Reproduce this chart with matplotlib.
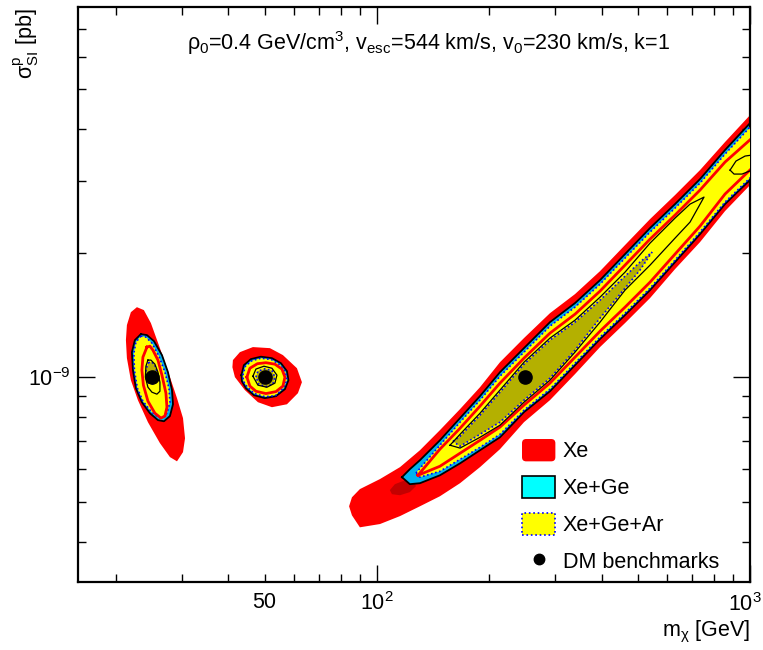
# Allowed regions in the (m_chi, sigma_SI) plane for three DM benchmarks,
# for Xe alone and combined with Ge and Ar targets.

import numpy as np
import matplotlib
matplotlib.use('Agg')
import matplotlib.pyplot as plt
import matplotlib.transforms as mtransforms
from matplotlib.ticker import FixedLocator, FixedFormatter, NullFormatter
from matplotlib.patches import Patch, FancyBboxPatch
from matplotlib.lines import Line2D
from matplotlib.legend_handler import HandlerPatch

plt.rcParams['font.family'] = 'Liberation Sans'
plt.rcParams['mathtext.fontset'] = 'custom'
plt.rcParams['mathtext.rm'] = 'Liberation Sans'
plt.rcParams['mathtext.it'] = 'Liberation Sans:italic'
plt.rcParams['mathtext.bf'] = 'Liberation Sans:bold'

## DATA ##########################
SIG = 1e-9   # all cross sections below in units of 1e-9 pb

bench_m = [25., 50., 250.]
bench_s = [1.0, 1.0, 1.0]

# --- 25 GeV benchmark, closed contours (m [GeV], sigma)
xe95_a_m = [22.73, 21.90, 21.37, 21.24, 21.37, 21.90, 22.87, 24.33, 26.20, 27.87, 29.11, 30.21, 30.59, 30.21, 29.11, 27.87, 26.20, 24.78, 23.73]
xe95_a_s = [1.481, 1.440, 1.340, 1.232, 1.114, 0.985, 0.881, 0.779, 0.693, 0.641, 0.626, 0.659, 0.712, 0.797, 0.891, 1.002, 1.178, 1.355, 1.457]
xege95_a_m = [23.30, 22.45, 22.04, 22.18, 22.59, 23.44, 24.63, 25.88, 26.86, 27.87, 28.40, 28.22, 27.53, 26.53, 25.25, 24.18]
xege95_a_s = [1.274, 1.232, 1.152, 1.042, 0.942, 0.871, 0.819, 0.788, 0.783, 0.806, 0.861, 0.932, 1.030, 1.133, 1.225, 1.267]
xegear95_a_m = [23.30, 22.59, 22.31, 22.38, 22.80, 23.59, 24.78, 25.88, 26.53, 27.36, 27.87, 27.70, 27.02, 26.04, 24.94, 24.03]
xegear95_a_s = [1.260, 1.218, 1.146, 1.042, 0.942, 0.876, 0.828, 0.801, 0.797, 0.819, 0.871, 0.942, 1.030, 1.126, 1.211, 1.253]
xe68_a_m = [24.18, 23.59, 23.44, 23.66, 24.33, 25.40, 26.36, 27.02, 27.36, 27.19, 26.53, 25.88, 25.09, 24.63]
xe68_a_s = [1.185, 1.120, 1.042, 0.958, 0.876, 0.819, 0.797, 0.806, 0.847, 0.916, 1.013, 1.102, 1.165, 1.191]
xege68_a_m = [24.33, 24.03, 23.95, 24.33, 24.94, 25.72, 26.20, 26.20, 25.88, 25.40, 24.78]
xege68_a_s = [1.102, 1.065, 1.002, 0.947, 0.921, 0.911, 0.926, 0.974, 1.030, 1.077, 1.102]
xegear68_a_m = [24.48, 24.03, 24.10, 24.48, 25.25, 25.72, 25.72, 25.40, 24.94]
xegear68_a_s = [1.089, 1.048, 0.996, 0.969, 0.963, 0.985, 1.030, 1.071, 1.089]

# --- 50 GeV benchmark
xe95_b_m = [41.11, 42.92, 46.51, 51.66, 55.98, 61.03, 62.94, 61.40, 57.38, 52.30, 47.97, 44.26, 41.62, 40.98]
xe95_b_s = [1.102, 1.152, 1.185, 1.178, 1.133, 1.053, 0.974, 0.916, 0.861, 0.847, 0.871, 0.932, 1.002, 1.059]
xege95_b_m = [43.32, 43.99, 45.94, 48.86, 52.30, 55.29, 57.38, 57.91, 56.67, 53.61, 50.09, 46.79, 44.54, 43.45]
xege95_b_s = [1.013, 1.071, 1.108, 1.123, 1.114, 1.083, 1.036, 0.985, 0.937, 0.901, 0.891, 0.906, 0.942, 0.980]
xegear95_b_m = [43.72, 44.40, 46.22, 48.86, 52.14, 54.95, 56.85, 57.38, 56.15, 53.44, 50.09, 46.94, 44.95, 43.85]
xegear95_b_s = [1.013, 1.065, 1.098, 1.114, 1.105, 1.074, 1.030, 0.985, 0.942, 0.903, 0.898, 0.914, 0.947, 0.980]
xe68_b_m = [44.81, 45.65, 47.82, 50.40, 53.28, 55.63, 56.67, 55.98, 53.61, 50.40, 47.38, 45.65]
xe68_b_s = [1.002, 1.053, 1.080, 1.086, 1.077, 1.048, 1.002, 0.953, 0.924, 0.914, 0.926, 0.953]
xege68_b_m = [46.51, 47.38, 49.78, 52.30, 53.94, 53.28, 50.71, 47.97]
xege68_b_s = [1.007, 1.048, 1.065, 1.053, 1.013, 0.969, 0.947, 0.958]
xegear68_b_m = [47.38, 47.97, 50.09, 52.30, 53.28, 52.62, 50.40, 48.26]
xegear68_b_s = [1.002, 1.036, 1.050, 1.039, 1.002, 0.963, 0.950, 0.963]

# --- 250 GeV benchmark: degenerate band, upper / lower edge at each mass
xe95_c_m = [84.2, 85.7, 90.0, 101.9, 115.3, 130.4, 147.5, 167.0, 188.9, 213.7, 247.8, 290.9, 339.5, 396.2, 462.3, 539.5, 629.5, 734.5, 857.0, 1012]
xe95_c_hi = [0.487, 0.512, 0.536, 0.567, 0.606, 0.666, 0.745, 0.838, 0.947, 1.089, 1.246, 1.432, 1.593, 1.811, 2.095, 2.422, 2.770, 3.185, 3.725, 4.380]
xe95_c_lo = [0.487, 0.463, 0.433, 0.441, 0.461, 0.487, 0.515, 0.554, 0.606, 0.670, 0.779, 0.881, 1.019, 1.185, 1.355, 1.558, 1.832, 2.130, 2.533, 2.962]
xege95_c_m = [116.7, 122.5, 130.4, 147.5, 167.0, 188.9, 213.7, 247.8, 290.9, 339.5, 396.2, 462.3, 539.5, 629.5, 734.5, 857.0, 1012]
xege95_c_hi = [0.573, 0.599, 0.630, 0.704, 0.797, 0.901, 1.030, 1.178, 1.362, 1.515, 1.722, 1.992, 2.304, 2.634, 3.029, 3.562, 4.189]
xege95_c_lo = [0.573, 0.551, 0.554, 0.579, 0.619, 0.666, 0.716, 0.824, 0.926, 1.071, 1.239, 1.417, 1.629, 1.905, 2.227, 2.634, 3.046]
xegear95_c_m = [127.2, 130.4, 147.5, 167.0, 188.9, 213.7, 247.8, 290.9, 339.5, 396.2, 462.3, 539.5, 629.5, 734.5, 857.0, 1012]
xegear95_c_hi = [0.586, 0.602, 0.685, 0.779, 0.881, 1.007, 1.152, 1.332, 1.481, 1.684, 1.948, 2.253, 2.576, 2.962, 3.483, 4.096]
xegear95_c_lo = [0.586, 0.573, 0.592, 0.633, 0.677, 0.728, 0.833, 0.937, 1.083, 1.253, 1.432, 1.647, 1.926, 2.253, 2.664, 3.080]
xe68_c_m = [128.8, 147.5, 167.0, 188.9, 213.7, 247.8, 290.9, 339.5, 396.2, 462.3, 539.5, 629.5, 734.5, 857.0, 1012]
xe68_c_hi = [0.579, 0.670, 0.753, 0.852, 0.969, 1.114, 1.281, 1.424, 1.620, 1.873, 2.166, 2.477, 2.849, 3.331, 3.809]
xe68_c_lo = [0.579, 0.609, 0.655, 0.704, 0.758, 0.857, 0.969, 1.120, 1.295, 1.481, 1.703, 1.992, 2.329, 2.786, 3.221]
xege68_c_m = [157.0, 167.0, 188.9, 213.7, 247.8, 290.9, 339.5, 396.2, 462.3, 539.5, 629.5, 690.6, 752.8]
xege68_c_hi = [0.685, 0.728, 0.819, 0.932, 1.089, 1.246, 1.377, 1.566, 1.801, 2.118, 2.436, 2.634, 2.739]
xege68_c_lo = [0.685, 0.674, 0.716, 0.766, 0.871, 0.985, 1.152, 1.362, 1.629, 1.873, 2.178, 2.382, 2.739]
xegear68_c_m = [159.9, 167.0, 188.9, 213.7, 247.8, 290.9, 339.5, 396.2, 462.3, 507.1, 546.2]
xegear68_c_hi = [0.700, 0.720, 0.810, 0.921, 1.077, 1.232, 1.362, 1.540, 1.761, 1.905, 2.014]
xegear68_c_lo = [0.700, 0.681, 0.728, 0.779, 0.881, 0.996, 1.165, 1.393, 1.647, 1.822, 2.014]
# small Xe+Ge 68% island near 1 TeV and Xe 68% spot near 115 GeV
xege68_d_m = [884, 917, 970, 1012, 1012, 952, 906]
xege68_d_s = [3.185, 3.350, 3.445, 3.464, 3.185, 3.115, 3.115]
xe68_d_m = [108.3, 111.7, 118.9, 125.7, 127.2, 122.5, 115.3, 109.7]
xe68_d_s = [0.533, 0.551, 0.563, 0.560, 0.545, 0.527, 0.518, 0.521]

legend_labels = ['Xe', 'Xe+Ge', 'Xe+Ge+Ar', 'DM benchmarks']
##################################

C_RED = '#ff0000'
C_DARKRED = '#c40000'
C_CYAN = '#00b4f0'
C_YEL = '#ffff00'
C_OLIVE = '#b4b000'
DOT = (0, (1, 1.5))

def closed(m, s):
    return np.array(m), np.array(s) * SIG

def band(m, hi, lo):
    x = list(m) + list(m[::-1])
    y = list(hi) + list(lo[::-1])
    return np.array(x), np.array(y) * SIG

def outline(ax, xy, **kw):
    x, y = xy
    ax.plot(np.append(x, x[0]), np.append(y, y[0]), **kw)

class RoundBox(HandlerPatch):
    # ROOT-like legend box with rounded corners
    def create_artists(self, legend, orig_handle, xdescent, ydescent,
                       width, height, fontsize, trans):
        p = FancyBboxPatch((-xdescent, -ydescent), width, height,
                           boxstyle='round,pad=0,rounding_size=3',
                           facecolor=orig_handle.get_facecolor(),
                           edgecolor='none', transform=trans)
        return [p]

regions = {
    'xe95': [closed(xe95_a_m, xe95_a_s), closed(xe95_b_m, xe95_b_s), band(xe95_c_m, xe95_c_hi, xe95_c_lo)],
    'xege95': [closed(xege95_a_m, xege95_a_s), closed(xege95_b_m, xege95_b_s), band(xege95_c_m, xege95_c_hi, xege95_c_lo)],
    'xegear95': [closed(xegear95_a_m, xegear95_a_s), closed(xegear95_b_m, xegear95_b_s), band(xegear95_c_m, xegear95_c_hi, xegear95_c_lo)],
    'xe68': [closed(xe68_a_m, xe68_a_s), closed(xe68_b_m, xe68_b_s), band(xe68_c_m, xe68_c_hi, xe68_c_lo)],
    'xege68': [closed(xege68_a_m, xege68_a_s), closed(xege68_b_m, xege68_b_s), band(xege68_c_m, xege68_c_hi, xege68_c_lo), closed(xege68_d_m, xege68_d_s)],
    'xegear68': [closed(xegear68_a_m, xegear68_a_s), closed(xegear68_b_m, xegear68_b_s), band(xegear68_c_m, xegear68_c_hi, xegear68_c_lo)],
}

## PLOT ##########################
fig = plt.figure(figsize=(7.63, 6.5), dpi=100)
ax = fig.add_axes([0.1022, 0.1046, 0.8808, 0.8846])
ax.set_xscale('log')
ax.set_yscale('log')

for x, y in regions['xe95']:
    ax.fill(x, y, facecolor=C_RED, edgecolor='none', zorder=1)
x, y = closed(xe68_d_m, xe68_d_s)
ax.fill(x, y, facecolor=C_DARKRED, edgecolor='none', zorder=1.5)
for x, y in regions['xege95']:
    ax.fill(x, y, facecolor=C_CYAN, edgecolor='none', zorder=2)
for x, y in regions['xegear95']:
    ax.fill(x, y, facecolor=C_YEL, edgecolor='none', zorder=3)
for xy in regions['xege95']:
    outline(ax, xy, color='black', lw=1.3, zorder=4)
for xy in regions['xegear95']:
    outline(ax, xy, color='blue', lw=1.2, ls=DOT, zorder=4)
for xy in regions['xe68']:
    outline(ax, xy, color=C_RED, lw=2.0, zorder=5)
for x, y in regions['xegear68']:
    ax.fill(x, y, facecolor=C_OLIVE, edgecolor='blue', lw=1.2, ls=DOT, zorder=6)
for xy in regions['xege68']:
    outline(ax, xy, color='black', lw=0.9, zorder=7)

ax.plot(bench_m, np.array(bench_s) * SIG, 'o', color='black', ms=9.5, zorder=8)

## axes ##############
ax.set_xlim(15.8, 1000)
ax.set_ylim(3.19e-10, 7.92e-9)
ax.xaxis.set_major_locator(FixedLocator([100, 1000]))
ax.xaxis.set_major_formatter(FixedFormatter([r'$10^{2}$', '']))
xminor = [20, 30, 40, 50, 60, 70, 80, 90, 200, 300, 400, 500, 600, 700, 800, 900]
ax.xaxis.set_minor_locator(FixedLocator(xminor))
ax.xaxis.set_minor_formatter(FixedFormatter(['50' if v == 50 else '' for v in xminor]))
ax.yaxis.set_major_locator(FixedLocator([1e-9]))
ax.yaxis.set_major_formatter(FixedFormatter([r'$10^{-9}$']))
ax.yaxis.set_minor_locator(FixedLocator([4e-10, 5e-10, 6e-10, 7e-10, 8e-10, 9e-10,
                                         2e-9, 3e-9, 4e-9, 5e-9, 6e-9, 7e-9]))
ax.yaxis.set_minor_formatter(NullFormatter())
ax.tick_params(which='both', direction='in', top=True, right=True, labelsize=15.5, width=1.0)
ax.tick_params(which='major', length=12.5)
ax.tick_params(which='minor', length=6)
ax.tick_params(axis='x', which='both', pad=7)
ax.tick_params(axis='y', which='both', pad=5)
for sp in ax.spines.values():
    sp.set_linewidth(1.6)

# 10^3 label sits at the right frame edge; nudge it inwards like ROOT does
trans = mtransforms.blended_transform_factory(ax.transData, ax.transAxes)
trans = mtransforms.offset_copy(trans, fig=fig, x=-5, y=-(1.6 / 2 + 7) * 100 / 72., units='dots')
ax.text(1000, 0, r'$10^{3}$', transform=trans, ha='center', va='top', fontsize=15.5)

ax.text(0.522, 0.925,
        r'ρ$_{\mathrm{0}}$=0.4 GeV/cm$^{\mathrm{3}}$, v$_{\mathrm{esc}}$=544 km/s, v$_{\mathrm{0}}$=230 km/s, k=1',
        transform=ax.transAxes, ha='center', va='baseline', fontsize=15.5)
fig.text(750 / 763., 1 - 636.5 / 650., r'm$_{\mathrm{χ}}$ [GeV]', ha='right', va='baseline', fontsize=15.5)
fig.text(26 / 763., 1 - 8 / 650., r'$\mathrm{σ}^{\mathrm{p}}_{\mathrm{SI}}$ [pb]', rotation=90,
         ha='center', va='top', fontsize=15.5)

handles = [Patch(facecolor=C_RED, edgecolor='none'),
           Patch(facecolor='#00ffff', edgecolor='black', lw=1.2),
           Patch(facecolor=C_YEL, edgecolor='blue', lw=1.2, ls=':'),
           Line2D([], [], marker='o', color='black', ls='none', ms=7.5)]
ax.legend(handles, legend_labels, loc='upper left', bbox_to_anchor=(0.6607, 0.2487),
          frameon=False, fontsize=15.5, borderpad=0, borderaxespad=0,
          handlelength=1.55, handleheight=1.22, handletextpad=0.35, labelspacing=0.62,
          handler_map={handles[0]: RoundBox()})

fig.savefig('out.png', dpi=100)
